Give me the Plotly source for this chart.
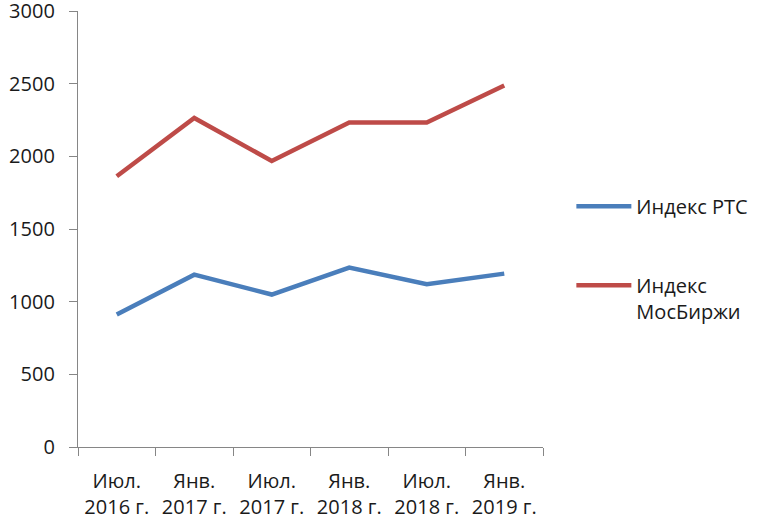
import plotly.graph_objects as go

categories = ["Июл.<br>2016 г.", "Янв.<br>2017 г.", "Июл.<br>2017 г.",
              "Янв.<br>2018 г.", "Июл.<br>2018 г.", "Янв.<br>2019 г."]
rts = [911, 1186, 1049, 1235, 1120, 1193]
moex = [1863, 2264, 1968, 2233, 2233, 2487]
series_names = ["Индекс РТС", "Индекс<br>МосБиржи"]
y_ticks = [0, 500, 1000, 1500, 2000, 2500, 3000]

FONT = "Open Sans"
TXT = "#1a1a1a"
AX = "#868686"

fig = go.Figure()
fig.add_trace(go.Scatter(x=categories, y=rts, mode="lines", name=series_names[0],
                         legendgroup="a",
                         line=dict(color="#4a7ebb", width=4.5)))
fig.add_trace(go.Scatter(x=categories, y=moex, mode="lines", name=series_names[1],
                         legendgroup="b",
                         line=dict(color="#be4b48", width=4.5)))

fig.update_layout(
    width=761, height=520,
    margin=dict(l=78, r=218, t=11, b=73, autoexpand=False),
    paper_bgcolor="white", plot_bgcolor="white",
    font=dict(family=FONT, size=20, color=TXT),
    showlegend=True,
    legend=dict(x=1.061, xanchor="left", y=0.432, yanchor="middle",
                tracegroupgap=50, valign="top",
                font=dict(family=FONT, size=20, color=TXT),
                itemwidth=55, bgcolor="rgba(0,0,0,0)"),
    xaxis=dict(type="category", range=[-0.5, 5.5], showgrid=False,
               showline=True, linecolor=AX, linewidth=1.3,
               ticks="outside", tickson="boundaries", ticklen=8,
               tickcolor=AX, tickwidth=1.3,
               tickfont=dict(family=FONT, size=20, color=TXT),
               ticklabelstandoff=16, ticklabeloverflow="allow"),
    yaxis=dict(range=[0, 3000], tickvals=y_ticks, showgrid=False,
               zeroline=False, showline=True, linecolor=AX, linewidth=1.3,
               ticks="outside", ticklen=8, tickcolor=AX, tickwidth=1.3,
               tickfont=dict(family=FONT, size=20, color=TXT),
               ticklabelstandoff=10, ticklabeloverflow="allow"),
)

fig.write_html("out.html", config={"displayModeBar": False},
               post_script="document.body.style.margin='0';document.body.style.padding='0';")
